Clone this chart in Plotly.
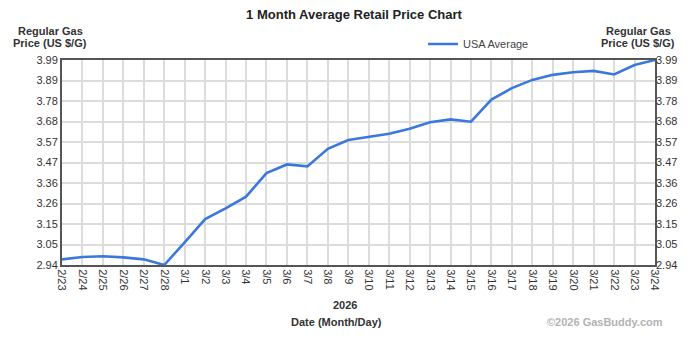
import numpy as np
import plotly.graph_objects as go

# Daily national average price of regular gasoline (US $ per gallon)
dates = ["2/23", "2/24", "2/25", "2/26", "2/27", "2/28",
         "3/1", "3/2", "3/3", "3/4", "3/5", "3/6", "3/7", "3/8", "3/9", "3/10",
         "3/11", "3/12", "3/13", "3/14", "3/15", "3/16", "3/17", "3/18", "3/19",
         "3/20", "3/21", "3/22", "3/23", "3/24"]
usa_average = [2.969, 2.981, 2.985, 2.979, 2.969, 2.940,
               3.056, 3.175, 3.230, 3.290, 3.411, 3.455, 3.445, 3.535, 3.580, 3.595,
               3.612, 3.638, 3.671, 3.686, 3.674, 3.787, 3.846, 3.888, 3.914,
               3.927, 3.934, 3.916, 3.964, 3.990]
y_tick_labels = ["2.94", "3.05", "3.15", "3.26", "3.36", "3.47",
                 "3.57", "3.68", "3.78", "3.89", "3.99"]

W, H = 700, 343
L, R, T, B = 62, 655, 60, 265  # plot area in pixels

FONT = "Liberation Sans, Arial, sans-serif"
TXT = "#333333"
LINE_BLUE = "#3b78dc"
GRID = "#dcdcdc"
FRAME = "#555555"

x_idx = list(range(len(dates)))
y_lo, y_hi = min(usa_average), max(usa_average)
y_ticks = list(np.linspace(y_lo, y_hi, len(y_tick_labels)))


def px(xp):
    return (xp - L) / (R - L)


def py(yp):
    return (B - yp) / (B - T)


fig = go.Figure()
fig.add_trace(go.Scatter(
    x=x_idx, y=usa_average, mode="lines", name="USA Average",
    line=dict(color=LINE_BLUE, width=2.6), hoverinfo="x+y",
))
# Same series on the right-hand axis so its ticks are drawn
fig.add_trace(go.Scatter(
    x=x_idx, y=usa_average, mode="lines", yaxis="y2", showlegend=False,
    line=dict(color="rgba(0,0,0,0)", width=0), hoverinfo="skip",
))

axis_common = dict(
    showgrid=True, gridcolor=GRID, gridwidth=1.5, zeroline=False,
    showline=True, linecolor=FRAME, linewidth=2, ticks="",
    tickfont=dict(family=FONT, size=11, color=TXT),
)

fig.update_layout(
    width=W, height=H, autosize=False,
    margin=dict(l=L, r=W - R, t=T, b=H - B, pad=0),
    paper_bgcolor="white", plot_bgcolor="white",
    font=dict(family=FONT, size=11, color=TXT),
    title=dict(text="<b>1 Month Average Retail Price Chart</b>",
               font=dict(family=FONT, size=13, color="#222222"),
               xref="container", yref="container",
               x=354 / W, y=1 - 14 / H, xanchor="center", yanchor="middle"),
    xaxis=dict(range=[0, len(dates) - 1], tickmode="array", tickvals=x_idx,
               ticktext=dates, tickangle=90, mirror=True, **axis_common),
    yaxis=dict(range=[y_lo, y_hi], tickmode="array", tickvals=y_ticks,
               ticktext=y_tick_labels, mirror=True, **axis_common),
    yaxis2=dict(range=[y_lo, y_hi], tickmode="array", tickvals=y_ticks,
                ticktext=y_tick_labels, overlaying="y", side="right",
                showgrid=False, zeroline=False, showline=False, ticks="",
                tickfont=dict(family=FONT, size=11, color=TXT)),
    showlegend=True,
    legend=dict(x=px(423), y=py(44), xanchor="left", yanchor="middle",
                bgcolor="rgba(0,0,0,0)", borderwidth=0,
                font=dict(family=FONT, size=11, color="#444444"),
                itemwidth=30),
)

annotations = [
    ("<b>Regular Gas</b>", 50, 31, TXT),
    ("<b>Price (US $/G)</b>", 50, 43, TXT),
    ("<b>Regular Gas</b>", 638, 31, TXT),
    ("<b>Price (US $/G)</b>", 638, 43, TXT),
    ("<b>2026</b>", 345, 305, TXT),
    ("<b>Date (Month/Day)</b>", 336, 322, TXT),
    ("<b>©2026 GasBuddy.com</b>", 605, 322, "#b3b3b3"),
]
for text, xp, yp, color in annotations:
    fig.add_annotation(text=text, xref="paper", yref="paper",
                       x=px(xp), y=py(yp), xanchor="center", yanchor="middle",
                       showarrow=False,
                       font=dict(family=FONT, size=11, color=color))

fig.write_html("out.html")
